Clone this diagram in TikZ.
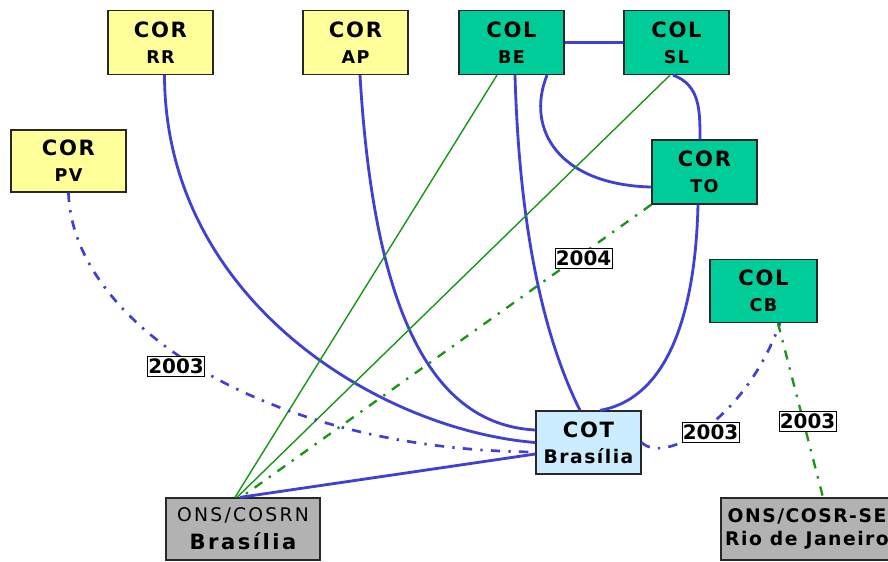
\documentclass[tikz,border=0pt]{standalone}
\usepackage{fontspec}
\setmainfont{DejaVu Sans}[LetterSpace=8]
\usetikzlibrary{calc}

\definecolor{corYellow}{RGB}{255,255,153}
\definecolor{colGreen}{RGB}{0,204,153}
\definecolor{cotBlue}{RGB}{204,236,255}
\definecolor{onsGray}{RGB}{178,178,178}
\definecolor{linkBlue}{RGB}{64,64,210}
\definecolor{linkGreen}{RGB}{24,150,24}
\definecolor{frameGray}{RGB}{40,40,40}

% two-line caption: large first line, smaller second line
\newcommand\stn[2]{#1\\[2pt]{\fontsize{15}{15}\selectfont #2}}

\tikzset{
  station/.style={draw=frameGray, line width=1.1pt, inner sep=0pt, align=center,
    font=\fontsize{18}{20}\selectfont\bfseries},
  corbox/.style={station, fill=corYellow, minimum width=3.15cm, minimum height=1.92cm},
  colbox/.style={station, fill=colGreen, minimum width=3.15cm, minimum height=1.92cm},
  cotbox/.style={station, fill=cotBlue, minimum width=3.15cm, minimum height=1.89cm},
  onsbox/.style={station, fill=onsGray, minimum height=1.86cm},
  yearlabel/.style={draw=black, fill=white, line width=0.8pt, inner sep=0.3pt,
    minimum width=1.71cm, minimum height=0.6cm,
    font=\fontsize{17}{17}\selectfont\bfseries\addfontfeature{LetterSpace=0}},
  trunk/.style={linkBlue, line width=2.4pt},
  trunkplan/.style={linkBlue, line width=2.3pt, dash pattern=on 8pt off 7pt on 2pt off 7pt},
  fibre/.style={linkGreen, line width=1.2pt},
  fibreplan/.style={linkGreen, line width=2pt, dash pattern=on 8pt off 7pt on 2pt off 7pt},
}

\begin{document}
\begin{tikzpicture}[x=0.03cm, y=-0.03cm]
  \clip (0,0) rectangle (888,562);
  \fill[white] (0,0) rectangle (888,562);

  % operation centres
  \node[corbox] (rr) at (160.5,42.5) {\stn{COR}{RR}};
  \node[corbox] (ap) at (355.5,42.5) {\stn{COR}{AP}};
  \node[corbox, minimum width=3.45cm, minimum height=1.86cm] (pv) at (68.5,161) {\stn{COR}{PV}};
  \node[colbox] (be) at (511.5,42.5) {\stn{COL}{BE}};
  \node[colbox] (sl) at (676.5,42.5) {\stn{COL}{SL}};
  \node[colbox] (to) at (704.5,172) {\stn{COR}{TO}};
  \node[colbox, minimum width=3.21cm, minimum height=1.89cm] (cb) at (763.5,291) {\stn{COL}{CB}};
  \node[cotbox] (cot) at (588.5,442.5)
    {COT\\[2pt]{\fontsize{16}{16}\selectfont Brasília}};
  \node[onsbox, minimum width=4.62cm] (ons) at (243,529)
    {{\fontsize{16}{16}\selectfont\mdseries\addfontfeature{LetterSpace=12}ONS/COSRN}\\[4pt]{\addfontfeature{LetterSpace=12}Brasília}};
  \node[onsbox, minimum width=5.16cm] (se) at (807,529)
    {{\fontsize{16}{16}\selectfont ONS/COSR-SE}\\[-1pt]{\fontsize{16}{16}\selectfont Rio de Janeiro}};

  % existing links
  \draw[trunk] (be.east) -- (sl.west);
  \draw[trunk] ([xshift=0.12cm]rr.south) .. controls (165,300) and (380,430) .. (cot.west);
  \draw[trunk] ([xshift=0.135cm]ap.south) .. controls (375,330) and (440,425) .. ([yshift=0.375cm]cot.west);
  \draw[trunk] ([xshift=0.105cm]be.south) .. controls (520,250) and (550,350) .. ([xshift=-0.255cm]cot.north);
  \draw[trunk] ([xshift=1.065cm]be.south) .. controls (525,130) and (560,185) .. ([yshift=-0.45cm]to.west);
  \draw[trunk] ([xshift=-0.105cm]sl.south) .. controls (700,85) and (700,110) .. ([xshift=-0.135cm]to.north);
  \draw[trunk] ([xshift=-0.195cm]to.south) .. controls (695,330) and (660,400) .. ([xshift=0.345cm]cot.north);
  \draw[trunk] ([xshift=-0.09cm]ons.north) -- ([yshift=-0.345cm]cot.west);

  % fibre links
  \draw[fibre] ([xshift=-0.435cm]be.south) -- ([xshift=-0.24cm]ons.north);
  \draw[fibre] ([xshift=-0.195cm]sl.south) -- ([xshift=-0.18cm]ons.north);

  % planned links
  \draw[trunkplan] (pv.south) .. controls (72,320) and (260,450) .. ([yshift=-0.285cm]cot.west);
  \draw[trunkplan] (cot.east) .. controls (665,465) and (745,420) .. ([xshift=0.495cm]cb.south);
  \draw[fibreplan] (to.south west) -- ([xshift=-0.06cm]ons.north);
  \draw[fibreplan] ([xshift=0.435cm]cb.south) -- ([xshift=0.48cm]se.north);

  % year labels
  \node[yearlabel] (y2004) at (583.5,258.5) {2004};
  \node[yearlabel] (y2003pv) at (176,366.5) {2003};
  \node[yearlabel] (y2003cb) at (710.5,432) {2003};
  \node[yearlabel] (y2003se) at (807.5,421) {2003};
\end{tikzpicture}
\end{document}
